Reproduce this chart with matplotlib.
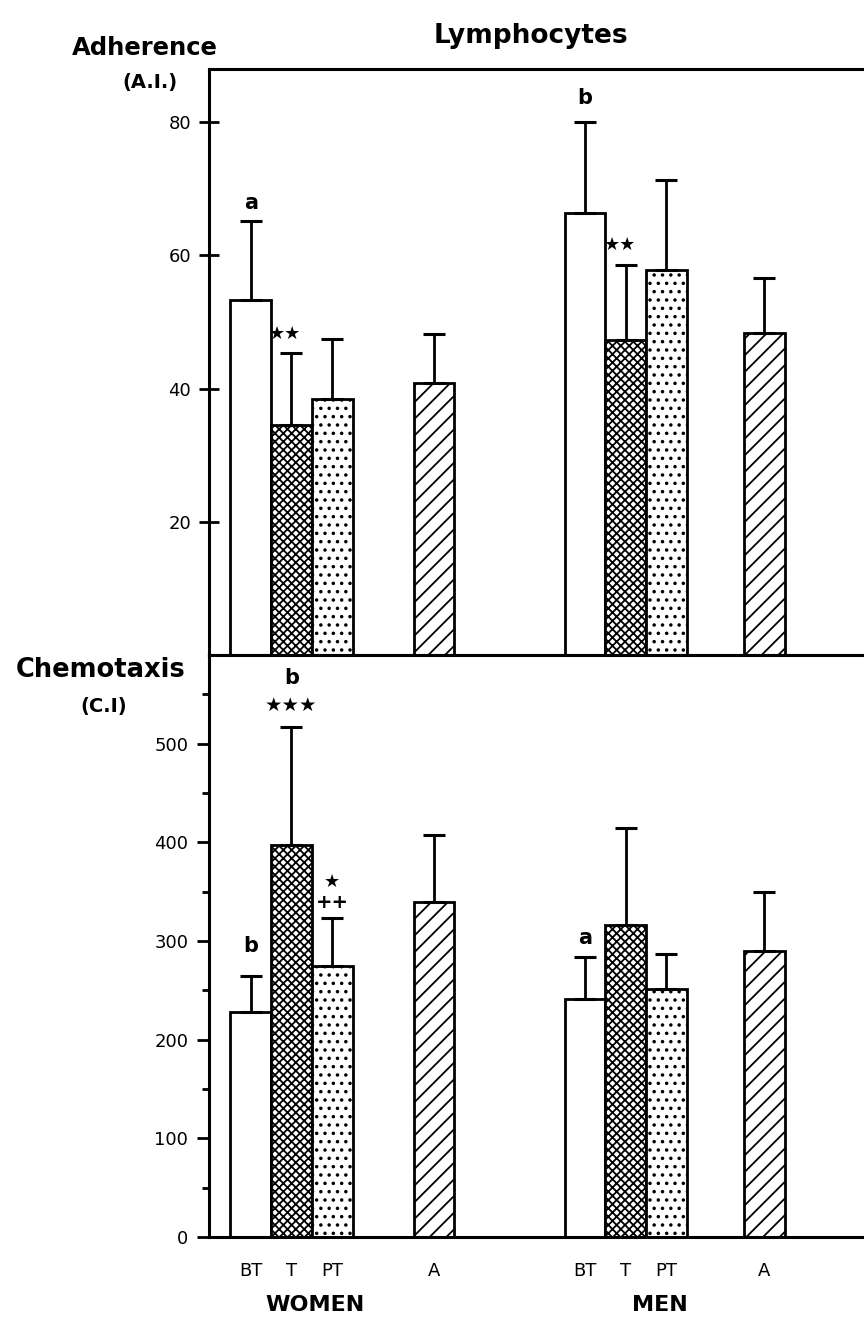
import matplotlib
matplotlib.use("Agg")
import matplotlib.pyplot as plt
import numpy as np

plt.rcParams["font.family"] = ["DejaVu Sans"]
plt.rcParams["hatch.linewidth"] = 1.3

conditions = ["BT", "T", "PT", "A"]
groups = ["WOMEN", "MEN"]
pos_women = [0, 1, 2, 4.5]
pos_men = [8.2, 9.2, 10.2, 12.6]

# Adherence index (A.I.)
adh_women = [53.3, 34.5, 38.4, 40.9]
adh_women_err = [11.9, 10.9, 9.1, 7.3]
adh_men = [66.3, 47.3, 57.8, 48.4]
adh_men_err = [13.7, 11.2, 13.5, 8.2]

# Chemotaxis index (C.I.)
chem_women = [228, 397, 275, 340]
chem_women_err = [37, 120, 48, 67]
chem_men = [241, 316, 251, 290]
chem_men_err = [43, 99, 36, 60]

hatches = ["", "xxxx", "..", "//"]

fig = plt.figure(figsize=(8.64, 13.25), dpi=100)
ax1 = fig.add_axes([0.242, 0.5057, 0.77, 0.4423])
ax2 = fig.add_axes([0.242, 0.0664, 0.77, 0.4393])


def draw(ax, pos, vals, errs):
    for x, v, e, h in zip(pos, vals, errs, hatches):
        ax.bar(x, v, width=1.0, color="white", edgecolor="black",
               linewidth=2.0, hatch=h, zorder=2)
        ax.errorbar(x, v, yerr=[[0], [e]], fmt="none", ecolor="black",
                    elinewidth=2.0, capsize=8, capthick=2.2, zorder=3)


for ax in (ax1, ax2):
    ax.spines["right"].set_visible(False)
    for s in ("left", "top", "bottom"):
        ax.spines[s].set_linewidth(2.2)
    ax.set_xlim(-1.02, 15.3)

draw(ax1, pos_women, adh_women, adh_women_err)
draw(ax1, pos_men, adh_men, adh_men_err)
draw(ax2, pos_women, chem_women, chem_women_err)
draw(ax2, pos_men, chem_men, chem_men_err)

# top panel
ax1.set_ylim(0, 88)
ax1.set_yticks([20, 40, 60, 80])
ax1.set_yticklabels(["20", "40", "60", "80"])
ax1.tick_params(axis="y", direction="inout", length=14, width=2, labelsize=13, pad=6)
ax1.set_xticks([])

# bottom panel
ax2.set_ylim(0, 590)
ax2.set_yticks([0, 100, 200, 300, 400, 500])
ax2.set_yticks(np.arange(50, 590, 100), minor=True)
ax2.tick_params(axis="y", which="major", direction="out", length=9, width=2, labelsize=13, pad=6)
ax2.tick_params(axis="y", which="minor", direction="out", length=5, width=2)
ax2.set_xticks(pos_women + pos_men)
ax2.set_xticklabels(conditions + conditions)
ax2.tick_params(axis="x", length=0, labelsize=13, pad=18)

# labels
fig.text(0.615, 0.973, "Lymphocytes", ha="center", va="center", fontsize=19, fontweight="bold")
fig.text(0.168, 0.964, "Adherence", ha="center", va="center", fontsize=17.5, fontweight="bold")
fig.text(0.173, 0.938, "(A.I.)", ha="center", va="center", fontsize=14, fontweight="bold")
fig.text(0.116, 0.494, "Chemotaxis", ha="center", va="center", fontsize=18.5, fontweight="bold")
fig.text(0.12, 0.467, "(C.I)", ha="center", va="center", fontsize=14, fontweight="bold")

group_x = [1.575, 10.05]
for name, xc in zip(groups, group_x):
    ax2.annotate(name, xy=(xc, 0), xycoords=("data", "axes fraction"),
                 xytext=(0, -49), textcoords="offset points", ha="center",
                 va="center", fontsize=16, fontweight="bold")


# significance marks
def mark(ax, x, y, txt, size=15):
    ax.text(x, y, txt, ha="center", va="center", fontsize=size, fontweight="bold")


mark(ax1, 0, 67.8, "a")
mark(ax1, pos_men[0], 83.6, "b")
mark(ax1, 0.85, 48.2, "★★", size=13)
mark(ax1, pos_men[1] - 0.15, 61.6, "★★", size=13)

mark(ax2, 1, 567, "b")
mark(ax2, 1, 539, "★★★", size=14)
mark(ax2, 2, 360, "★", size=13)
mark(ax2, 2, 339, "++", size=14)
mark(ax2, 0, 295, "b")
mark(ax2, pos_men[0], 303, "a")

fig.savefig("out.png", dpi=100)
